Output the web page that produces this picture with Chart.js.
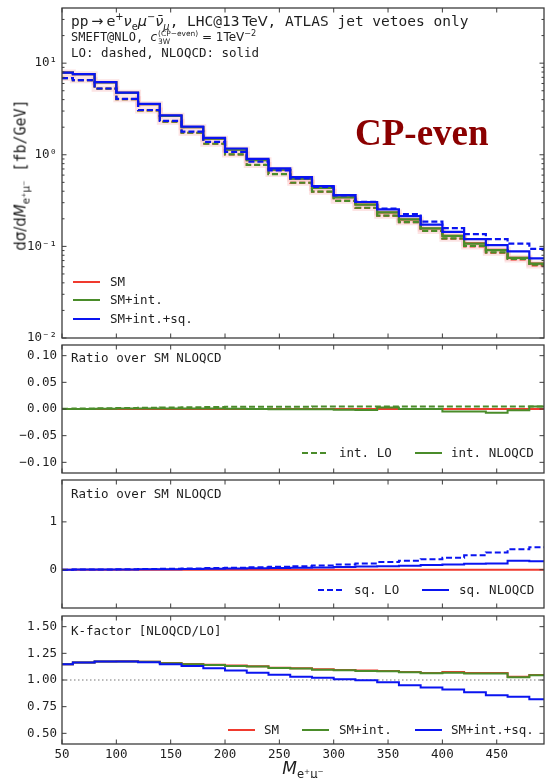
<!DOCTYPE html>
<html>
<head>
<meta charset="utf-8">
<title>SMEFT CP-even, M(e+mu-)</title>
<script src="https://cdn.jsdelivr.net/npm/chart.js@4.4.1/dist/chart.umd.min.js"></script>
<style>
  html, body { margin: 0; background: #fff; }
  body { position: relative; width: 545px; height: 778px; overflow: hidden;
         font-family: "DejaVu Sans Mono", monospace; color: #1e1e1e; }
  canvas { position: absolute; left: 0; }
  .t { position: absolute; white-space: nowrap; line-height: 1; }
  .m { font-family: "DejaVu Sans", sans-serif; }
  sub, sup { font-size: 68%; line-height: 0; }
  .sw { position: absolute; width: 27px; height: 2px; }
  .stack { display: inline-flex; flex-direction: column; vertical-align: middle; font-size: 62%; line-height: 1.05; margin-left: 1px; }
</style>
</head>
<body>
<canvas id="mainChart" width="547" height="362" style="top:-8px"></canvas>
<canvas id="intChart" width="547" height="160" style="top:329px"></canvas>
<canvas id="sqChart" width="547" height="160" style="top:464px"></canvas>
<canvas id="kChart" width="547" height="180" style="top:600px"></canvas>

<!-- header text -->
<div class="t" style="left:71px;top:13.5px;font-size:14.5px">pp<span class="m">&#8201;→&#8201;e<sup>+</sup><i>ν</i><sub>e</sub><i>μ</i><sup>−</sup><i>ν̄</i><sub><i>μ</i></sub></span>, LHC@13<span class="m">&#8201;TeV</span>, ATLAS jet vetoes only</div>
<div class="t" style="left:71px;top:30px;font-size:12px">SMEFT@NLO, <span class="m"><i>c</i><span class="stack"><span>(CP−even)</span><span>3W</span></span> = 1TeV<sup>−2</sup></span></div>
<div class="t" style="left:71px;top:47px;font-size:12.5px">LO: dashed, NLOQCD: solid</div>
<div class="t" style="left:355px;top:114px;font-size:37px;font-family:'Liberation Serif',serif;font-weight:bold;color:#8b0000">CP-even</div>

<!-- axis titles -->
<div class="t" style="left:21px;top:175px;font-size:15px;transform:translate(-50%,-50%) rotate(-90deg)"><span class="m">dσ/d<i>M</i><sub>e⁺μ⁻</sub></span> [fb/GeV]</div>
<div class="t m" style="left:303px;top:760px;font-size:17px;transform:translateX(-50%)"><i>M</i><sub>e⁺μ⁻</sub></div>

<!-- main legend -->
<div class="sw" style="left:73px;top:281px;background:#f03a2e"></div>
<div class="t" style="left:110px;top:276px;font-size:12.5px">SM</div>
<div class="sw" style="left:73px;top:299px;background:#4a8c2a"></div>
<div class="t" style="left:110px;top:294px;font-size:12.5px">SM+int.</div>
<div class="sw" style="left:73px;top:318px;background:#0a14f0"></div>
<div class="t" style="left:110px;top:313px;font-size:12.5px">SM+int.+sq.</div>

<!-- interference ratio panel -->
<div class="t" style="left:71px;top:352px;font-size:12.5px">Ratio over SM NLOQCD</div>
<div class="sw" style="left:302px;top:452px;background:repeating-linear-gradient(90deg,#4a8c2a 0 6px,transparent 6px 9px)"></div>
<div class="t" style="left:339px;top:447px;font-size:12.5px">int. LO</div>
<div class="sw" style="left:415px;top:452px;background:#4a8c2a"></div>
<div class="t" style="left:451px;top:447px;font-size:12.5px">int. NLOQCD</div>

<!-- squared ratio panel -->
<div class="t" style="left:71px;top:488px;font-size:12.5px">Ratio over SM NLOQCD</div>
<div class="sw" style="left:318px;top:589px;background:repeating-linear-gradient(90deg,#0a14f0 0 6px,transparent 6px 9px)"></div>
<div class="t" style="left:354px;top:584px;font-size:12.5px">sq. LO</div>
<div class="sw" style="left:422px;top:589px;background:#0a14f0"></div>
<div class="t" style="left:459px;top:584px;font-size:12.5px">sq. NLOQCD</div>

<!-- K-factor panel -->
<div class="t" style="left:71px;top:624.5px;font-size:12.5px">K-factor [NLOQCD/LO]</div>
<div class="sw" style="left:228px;top:729px;background:#f03a2e"></div>
<div class="t" style="left:264px;top:724px;font-size:12.5px">SM</div>
<div class="sw" style="left:302px;top:729px;background:#4a8c2a"></div>
<div class="t" style="left:339px;top:724px;font-size:12.5px">SM+int.</div>
<div class="sw" style="left:415px;top:729px;background:#0a14f0"></div>
<div class="t" style="left:451px;top:724px;font-size:12.5px">SM+int.+sq.</div>

<script>
// bin edges of M(e+mu-) in GeV
const binEdges = [50, 60, 80, 100, 120, 140, 160, 180, 200, 220, 240, 260, 280,
                  300, 320, 340, 360, 380, 400, 420, 440, 460, 480, 500];

const xTicks = [50, 100, 150, 200, 250, 300, 350, 400, 450];
const xTickLabels = ["50", "100", "150", "200", "250", "300", "350", "400", "450"];

// dsigma/dM [fb/GeV]
const smNLO     = [7.9, 7.58, 6.18, 4.74, 3.57, 2.66, 2.0, 1.5, 1.14, 0.874, 0.686, 0.548, 0.435, 0.344, 0.287, 0.234, 0.197, 0.157, 0.131, 0.108, 0.092, 0.075, 0.065];
const smLO      = [6.88, 6.52, 5.27, 4.04, 3.05, 2.30, 1.74, 1.32, 1.01, 0.775, 0.615, 0.494, 0.396, 0.314, 0.263, 0.216, 0.183, 0.147, 0.121, 0.100, 0.085, 0.072, 0.062];
const smIntNLO  = [7.9, 7.58, 6.18, 4.74, 3.57, 2.66, 2.0, 1.5, 1.14, 0.874, 0.686, 0.548, 0.435, 0.343, 0.286, 0.235, 0.197, 0.157, 0.130, 0.107, 0.091, 0.075, 0.065];
const smIntLO   = [6.88, 6.52, 5.27, 4.04, 3.05, 2.30, 1.74, 1.32, 1.01, 0.776, 0.616, 0.495, 0.397, 0.314, 0.264, 0.217, 0.184, 0.148, 0.122, 0.101, 0.086, 0.073, 0.063];
const fullNLO   = [7.9, 7.6, 6.2, 4.77, 3.6, 2.69, 2.03, 1.53, 1.17, 0.90, 0.71, 0.57, 0.456, 0.363, 0.305, 0.253, 0.214, 0.173, 0.144, 0.120, 0.103, 0.088, 0.074];
const fullLO    = [6.88, 6.53, 5.29, 4.07, 3.08, 2.34, 1.79, 1.38, 1.075, 0.842, 0.676, 0.553, 0.446, 0.361, 0.306, 0.259, 0.225, 0.186, 0.158, 0.136, 0.120, 0.107, 0.094];

// interference / SM NLOQCD
const smRatio   = [0, 0, 0, 0, 0, 0, 0, 0, 0, 0, 0, 0, 0, 0, 0, 0, 0, 0, 0, 0, 0, 0, 0];
const intLO     = [0.0005, 0.001, 0.0015, 0.002, 0.0025, 0.003, 0.0035, 0.0038, 0.004, 0.0042, 0.0043, 0.0044, 0.0045, 0.0045, 0.0045, 0.0045, 0.0045, 0.0045, 0.0045, 0.0045, 0.0045, 0.0045, 0.0048];
const intNLO    = [0.0, 0.0, 0.0005, 0.0008, 0.001, 0.001, 0.001, 0.0008, 0.0006, 0.0, -0.0003, -0.0003, -0.0005, -0.0015, -0.002, 0.003, 0.0, 0.0, -0.0045, -0.0045, -0.007, -0.0025, 0.0045];

// squared / SM NLOQCD
const sqLO      = [0.0, 0.003, 0.006, 0.010, 0.015, 0.020, 0.027, 0.034, 0.042, 0.052, 0.062, 0.075, 0.09, 0.11, 0.13, 0.16, 0.19, 0.22, 0.25, 0.30, 0.36, 0.43, 0.47];
const sqNLO     = [0.0, 0.002, 0.004, 0.006, 0.009, 0.012, 0.016, 0.020, 0.025, 0.030, 0.035, 0.040, 0.048, 0.058, 0.065, 0.075, 0.085, 0.10, 0.11, 0.125, 0.13, 0.19, 0.175];

// K-factors NLOQCD/LO
const kSM       = [1.148, 1.163, 1.174, 1.175, 1.172, 1.160, 1.151, 1.143, 1.135, 1.128, 1.116, 1.109, 1.100, 1.094, 1.088, 1.084, 1.075, 1.066, 1.074, 1.066, 1.066, 1.030, 1.046];
const kSmInt    = [1.148, 1.163, 1.173, 1.173, 1.170, 1.157, 1.148, 1.140, 1.132, 1.126, 1.113, 1.107, 1.097, 1.091, 1.085, 1.082, 1.072, 1.063, 1.069, 1.060, 1.060, 1.025, 1.044];
const kFull     = [1.148, 1.163, 1.173, 1.173, 1.167, 1.148, 1.132, 1.110, 1.088, 1.069, 1.050, 1.030, 1.022, 1.006, 0.997, 0.978, 0.950, 0.930, 0.912, 0.884, 0.858, 0.843, 0.820];
const kUnity    = 1.0;

const RED = "#f03a2e";
const GREEN = "#4a8c2a";
const BLUE = "#0a14f0";
const textColor = "#1e1e1e";
const tickFont = { family: "DejaVu Sans Mono", size: 12.5 };

// minor ticks of the log axis
const logMinor = [];
[0.01, 0.1, 1, 10].forEach(d => {
    for (let k = 2; k <= 9; k++) if (d * k < 40) logMinor.push(d * k);
});

const frameTicks = {
    mainChart: { major: [0.01, 0.1, 1, 10], minor: logMinor },
    intChart:  { major: [-0.1, -0.05, 0, 0.05, 0.1], minor: [] },
    sqChart:   { major: [0, 1], minor: [] },
    kChart:    { major: [0.5, 0.75, 1, 1.25, 1.5], minor: [] }
};

/* inward ticks on all four sides + frame */
const framePlugin = {
    id: "frame",
    afterDraw(chart) {
        const { ctx, chartArea: a, scales } = chart;
        const conf = frameTicks[chart.canvas.id];
        const line = (x1, y1, x2, y2) => {
            ctx.beginPath(); ctx.moveTo(x1, y1); ctx.lineTo(x2, y2); ctx.stroke();
        };
        ctx.save();
        ctx.strokeStyle = "#3c3c3c";
        ctx.lineWidth = 1;
        xTicks.forEach(v => {
            const px = scales.x.getPixelForValue(v);
            line(px, a.bottom, px, a.bottom - 4.5);
            line(px, a.top, px, a.top + 4.5);
        });
        const tick = (v, len) => {
            const py = scales.y.getPixelForValue(v);
            line(a.left, py, a.left + len, py);
            line(a.right, py, a.right - len, py);
        };
        conf.major.forEach(v => tick(v, 4.5));
        conf.minor.forEach(v => tick(v, 2.5));
        ctx.lineWidth = 1.3;
        ctx.strokeRect(a.left, a.top, a.right - a.left, a.bottom - a.top);
        ctx.restore();
    }
};

// histogram: value i holds from binEdges[i] to binEdges[i+1]
function stepData(vals) {
    const pts = vals.map((v, i) => ({ x: binEdges[i], y: v }));
    pts.push({ x: binEdges[vals.length], y: vals[vals.length - 1] });
    return pts;
}

function hist(vals, color, dashed, width) {
    return {
        data: stepData(vals),
        borderColor: color,
        borderWidth: width || 2,
        borderDash: dashed ? [6, 3] : [],
        stepped: "before",
        pointRadius: 0,
        fill: false
    };
}

function makePanel(id, datasets, y, showX) {
    return new Chart(document.getElementById(id), {
        type: "line",
        data: { datasets },
        options: {
            responsive: false,
            animation: false,
            events: [],
            layout: { padding: { left: 0, right: 3, top: 16, bottom: 16 } },
            plugins: { legend: { display: false }, tooltip: { enabled: false } },
            scales: {
                x: {
                    type: "linear", min: 50, max: 493.5, display: showX,
                    grid: { display: false, drawTicks: false },
                    border: { display: false },
                    afterFit: s => { s.height = showX ? 20 : 0; },
                    afterBuildTicks: s => { s.ticks = xTicks.map(v => ({ value: v })); },
                    ticks: {
                        padding: 3, autoSkip: false, maxRotation: 0,
                        color: textColor, font: tickFont,
                        callback: (v, i) => xTickLabels[i]
                    }
                },
                y: {
                    type: y.type, min: y.min, max: y.max,
                    grid: { display: false, drawTicks: false },
                    border: { display: false },
                    afterFit: s => { s.width = 62; },
                    afterBuildTicks: s => { s.ticks = y.ticks.map(v => ({ value: v })); },
                    ticks: {
                        padding: 5, autoSkip: false,
                        color: textColor, font: tickFont,
                        callback: (v, i) => y.labels[i]
                    }
                }
            }
        },
        plugins: [framePlugin]
    });
}

/* ===== main distribution ===== */
makePanel("mainChart", [
    hist(fullNLO, BLUE, false, 2.2),
    hist(fullLO, BLUE, true, 2.2),
    hist(smIntNLO, GREEN, false, 2.2),
    hist(smIntLO, GREEN, true, 2.2),
    hist(smNLO, RED, false, 2),
    hist(smLO, RED, true, 2),
    hist(smNLO, "rgba(240,130,130,0.22)", false, 6),
    hist(smLO, "rgba(240,130,130,0.22)", false, 6)
], {
    type: "logarithmic", min: 0.01, max: 40,
    ticks: [0.01, 0.1, 1, 10],
    labels: ["10⁻²", "10⁻¹", "10⁰", "10¹"]
}, false);

/* ===== interference ratio ===== */
makePanel("intChart", [
    hist(intNLO, GREEN, false, 2),
    hist(intLO, GREEN, true, 2),
    hist(smRatio, RED, false, 2)
], {
    type: "linear", min: -0.12, max: 0.12,
    ticks: [-0.1, -0.05, 0, 0.05, 0.1],
    labels: ["−0.10", "−0.05", "0.00", "0.05", "0.10"]
}, false);

/* ===== squared ratio ===== */
makePanel("sqChart", [
    hist(sqNLO, BLUE, false, 2),
    hist(sqLO, BLUE, true, 2),
    hist(smRatio, RED, false, 2)
], {
    type: "linear", min: -0.8, max: 1.875,
    ticks: [0, 1],
    labels: ["0", "1"]
}, false);

/* ===== K-factor ===== */
makePanel("kChart", [
    hist(kFull, BLUE, false, 2),
    hist(kSmInt, GREEN, false, 2),
    hist(kSM, RED, false, 2),
    {
        data: [{ x: binEdges[0], y: kUnity }, { x: binEdges[binEdges.length - 1], y: kUnity }],
        borderColor: "#777", borderWidth: 1.2, borderDash: [1.5, 2.5],
        pointRadius: 0, fill: false
    }
], {
    type: "linear", min: 0.4, max: 1.6,
    ticks: [0.5, 0.75, 1, 1.25, 1.5],
    labels: ["0.50", "0.75", "1.00", "1.25", "1.50"]
}, true);
</script>
</body>
</html>
